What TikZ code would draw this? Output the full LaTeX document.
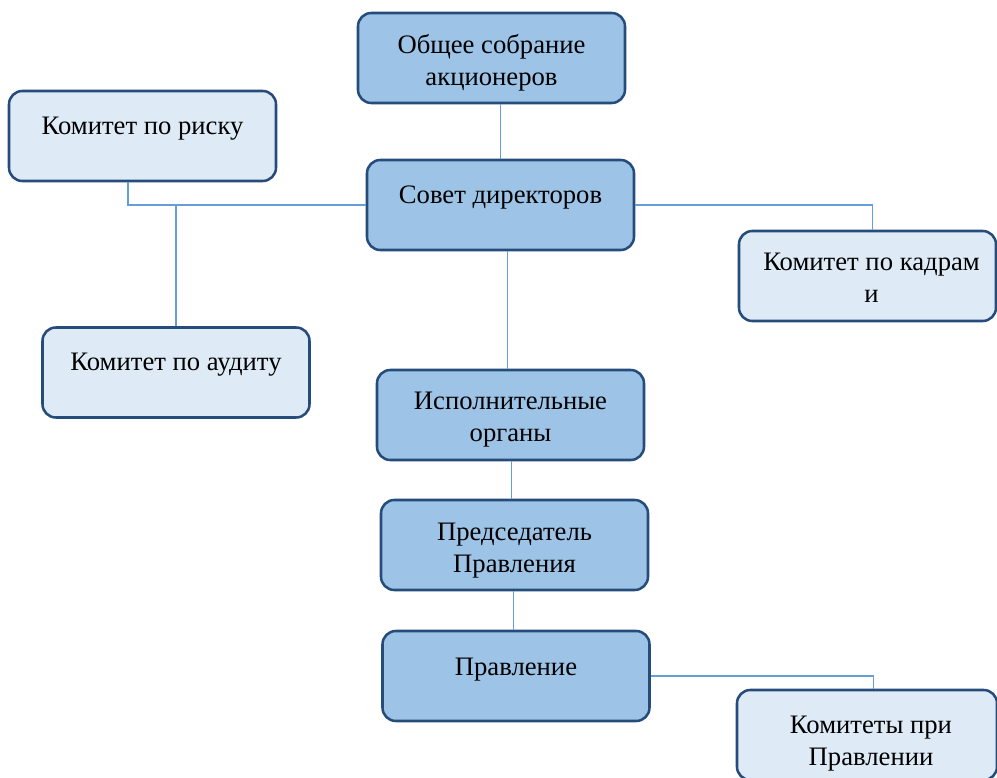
\documentclass[tikz,border=0pt]{standalone}
\usepackage{fontspec}
\setmainfont{Liberation Serif}
\definecolor{bdr}{RGB}{38,76,124}
\definecolor{dfill}{RGB}{157,195,230}
\definecolor{lfill}{RGB}{222,235,247}
\definecolor{conn}{RGB}{100,160,215}
\newcommand\tstrut{\rule{0pt}{15pt}}
\begin{document}
\begin{tikzpicture}[x=0.75pt,y=-0.75pt,
  box/.style={draw=bdr, line width=1.9pt, rounded corners=10pt, inner sep=0pt,
    minimum width=200.25pt, minimum height=67.5pt},
  dbox/.style={box, fill=dfill},
  lbox/.style={box, fill=lfill},
  txt/.style={anchor=north, inner sep=0pt, align=center, font=\fontsize{20}{24}\selectfont},
  link/.style={draw=conn, line width=0.8pt}]
\clip (0,0) rectangle (997,778);
\fill[white] (0,0) rectangle (997,778);
% boxes
\node[dbox] (gsm) at (491.5,58) {};
\node[dbox] (sd) at (500.5,205) {};
\node[lbox] (risk) at (142.5,136) {};
\node[lbox] (audit) at (176,372.5) {};
\node[lbox, minimum width=192.75pt] (kadr) at (867.5,276) {};
\node[dbox] (exec) at (510.5,415) {};
\node[dbox] (chair) at (514.5,545) {};
\node[dbox] (board) at (516,676) {};
\node[lbox, minimum width=195pt] (kom) at (867,735) {};
% texts
\node[txt] (gsm-t) at (491.5,33) {\tstrut Общее собрание\\акционеров};
\node[txt] (sd-t) at (500.5,183) {\tstrut Совет директоров};
\node[txt] (risk-t) at (142.5,114) {\tstrut Комитет по риску};
\node[txt] (audit-t) at (176,350) {\tstrut Комитет по аудиту};
\node[txt] (kadr-t) at (871.5,250) {\tstrut Комитет по кадрам\\и};
\node[txt] (exec-t) at (510.5,389) {\tstrut Исполнительные\\органы};
\node[txt] (chair-t) at (514.5,520) {\tstrut Председатель\\Правления};
\node[txt] (board-t) at (516,655) {\tstrut Правление};
\node[txt] (kom-t) at (871,713) {\tstrut Комитеты при\\Правлении};
% connectors
\draw[link] (gsm.south -| sd.north) -- (sd.north);
\draw[link] (sd.west) -| ([xshift=-10.9pt]risk.south);
\draw[link] (audit.north) |- (sd.west);
\draw[link] (sd.east) -| ([xshift=3.4pt]kadr.north);
\draw[link] ([xshift=-2.6pt]exec.north) -- ([xshift=-2.6pt]exec.north |- sd.south);
\draw[link] ([xshift=1pt]exec.south) -- ([xshift=1pt]exec.south |- chair.north);
\draw[link] ([xshift=-1pt]chair.south) -- ([xshift=-1pt]chair.south |- board.north);
\draw[link] (board.east) -| ([xshift=5pt]kom.north);
\end{tikzpicture}
\end{document}
